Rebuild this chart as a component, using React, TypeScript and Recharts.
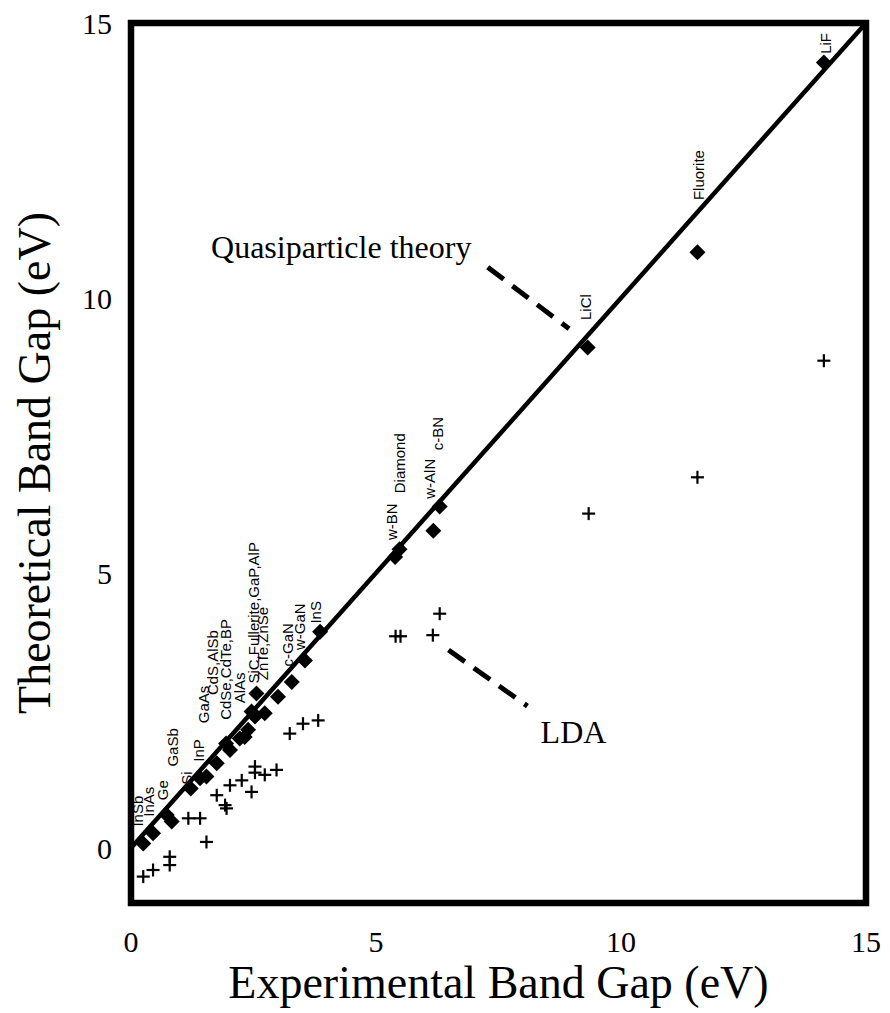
import React from 'react';
import {
  ScatterChart,
  Scatter,
  XAxis,
  YAxis,
  ReferenceArea,
  ReferenceLine,
  Label,
} from 'recharts';

// quasiparticle theory (diamonds): experimental gap vs theoretical gap, eV
const qpExp = [0.25, 0.45, 0.73, 0.83, 1.22, 1.41, 1.54, 1.75, 1.94, 2.02, 2.22, 2.32, 2.39, 2.46, 2.56, 2.53, 2.73, 3.0, 3.28, 3.55, 3.86, 5.39, 5.48, 6.17, 6.3, 9.32, 11.56, 14.14];
const qpTheory = [0.08, 0.27, 0.6, 0.48, 1.08, 1.27, 1.3, 1.54, 1.9, 1.78, 1.99, 2.02, 2.15, 2.48, 2.81, 2.39, 2.45, 2.75, 3.02, 3.41, 3.93, 5.29, 5.43, 5.77, 6.21, 9.1, 10.83, 14.28];

// LDA (crosses)
const ldaExp = [0.25, 0.45, 0.79, 0.79, 1.17, 1.41, 1.54, 1.75, 1.92, 1.95, 2.02, 2.26, 2.46, 2.53, 2.53, 2.73, 2.97, 3.24, 3.51, 3.82, 5.4, 5.5, 6.16, 6.3, 9.34, 11.56, 14.14];
const ldaTheory = [-0.52, -0.4, -0.16, -0.31, 0.54, 0.54, 0.11, 0.96, 0.78, 0.72, 1.14, 1.23, 1.02, 1.48, 1.37, 1.33, 1.42, 2.08, 2.26, 2.32, 3.85, 3.85, 3.87, 4.26, 6.08, 6.74, 8.86];

// material names, anchored (in eV) where each label begins
const materials = ['InSb', 'InAs', 'Ge', 'GaSb', 'Si', 'InP', 'GaAs', 'CdS,AlSb', 'CdSe,CdTe,BP', 'AlAs', 'SiC,Fullerite,GaP,AlP', 'ZnTe,ZnSe', 'c-GaN', 'w-GaN', 'InS', 'w-BN', 'Diamond', 'w-AlN', 'c-BN', 'LiCl', 'Fluorite', 'LiF'];
const materialX = [0.25, 0.46, 0.76, 0.95, 1.24, 1.48, 1.6, 1.78, 2.05, 2.33, 2.62, 2.79, 3.31, 3.55, 3.88, 5.42, 5.6, 6.2, 6.37, 9.38, 11.69, 14.28];
const materialY = [0.39, 0.57, 0.87, 1.48, 1.15, 1.57, 2.27, 2.78, 2.33, 2.63, 2.99, 3.05, 3.3, 3.6, 4.08, 5.6, 6.45, 6.35, 7.23, 9.6, 11.78, 14.44];

// callouts
const notes = ['Quasiparticle theory', 'LDA'];
const noteX = [4.29, 9.03];
const noteY = [10.73, 1.91];
const qpPointer = [{ x: 7.28, y: 10.56 }, { x: 8.94, y: 9.44 }];
const ldaPointer = [{ x: 6.48, y: 3.6 }, { x: 8.09, y: 2.58 }];

const ticks = [0, 5, 10, 15];

const SERIF = "'Liberation Serif', 'Times New Roman', Times, serif";
const SANS = "'Liberation Sans', Arial, Helvetica, sans-serif";

const qpData = qpExp.map((x, i) => ({ x, y: qpTheory[i] }));
const ldaData = ldaExp.map((x, i) => ({ x, y: ldaTheory[i] }));
const labelData = materials.map((name, i) => ({ x: materialX[i], y: materialY[i], name }));
const noteData = notes.map((name, i) => ({ x: noteX[i], y: noteY[i], name }));

const Diamond = ({ cx, cy }: any) => (
  <polygon
    points={`${cx},${cy - 8} ${cx + 8},${cy} ${cx},${cy + 8} ${cx - 8},${cy}`}
    fill="#000"
  />
);

const Cross = ({ cx, cy }: any) => (
  <g stroke="#000" strokeWidth={2.2}>
    <line x1={cx - 6.5} y1={cy} x2={cx + 6.5} y2={cy} />
    <line x1={cx} y1={cy - 6.5} x2={cx} y2={cy + 6.5} />
  </g>
);

const MaterialLabel = ({ cx, cy, payload }: any) => (
  <text
    x={cx}
    y={cy}
    transform={`rotate(-90 ${cx} ${cy})`}
    fontSize={15}
    fontFamily={SANS}
    fill="#000"
  >
    {payload.name}
  </text>
);

const NoteLabel = ({ cx, cy, payload }: any) => (
  <text x={cx} y={cy} textAnchor="middle" fontSize={32} fontFamily={SERIF} fill="#000">
    {payload.name}
  </text>
);

const XTick = ({ x, y, payload }: any) => (
  <text x={x} y={y} dy="0.71em" textAnchor="middle" fontSize={30} fontFamily={SERIF} fill="#000">
    {payload.value}
  </text>
);

const YTick = ({ x, y, payload }: any) => (
  <text x={x} y={y} dy="0.355em" textAnchor="end" fontSize={30} fontFamily={SERIF} fill="#000">
    {payload.value}
  </text>
);

const XTitle = ({ viewBox }: any) => (
  <text
    x={viewBox.x + viewBox.width / 2}
    y={viewBox.y + 95}
    textAnchor="middle"
    fontSize={46}
    fontFamily={SERIF}
    fill="#000"
  >
    Experimental Band Gap (eV)
  </text>
);

const YTitle = ({ viewBox }: any) => {
  const cx = viewBox.x + 50;
  const cy = viewBox.y + viewBox.height / 2;
  return (
    <text
      x={cx}
      y={cy}
      transform={`rotate(-90 ${cx} ${cy})`}
      textAnchor="middle"
      fontSize={46}
      fontFamily={SERIF}
      fill="#000"
    >
      Theoretical Band Gap (eV)
    </text>
  );
};

export default function App() {
  return (
    <div style={{ position: 'absolute', left: 0, top: 0, width: 890, height: 1013, background: '#fff' }}>
      <ScatterChart width={890} height={1013} margin={{ top: 23, right: 24, bottom: 0, left: 0 }}>
        <XAxis
          type="number"
          dataKey="x"
          domain={[0, 15]}
          ticks={ticks}
          axisLine={false}
          tickLine={false}
          tickMargin={22}
          height={110}
          tick={XTick}
        >
          <Label content={XTitle} />
        </XAxis>
        <YAxis
          type="number"
          dataKey="y"
          domain={[-1, 15]}
          ticks={ticks}
          axisLine={false}
          tickLine={false}
          tickMargin={13}
          width={131}
          tick={YTick}
        >
          <Label content={YTitle} />
        </YAxis>
        <ReferenceArea x1={0} x2={15} y1={-1} y2={15} fill="none" stroke="#000" strokeWidth={6.5} />
        <ReferenceLine segment={[{ x: 0, y: 0 }, { x: 15, y: 15 }]} stroke="#000" strokeWidth={4.5} />
        <ReferenceLine segment={qpPointer} stroke="#000" strokeWidth={5} strokeDasharray="20 11" />
        <ReferenceLine segment={ldaPointer} stroke="#000" strokeWidth={5} strokeDasharray="20 11" />
        <Scatter data={ldaData} shape={Cross} isAnimationActive={false} />
        <Scatter data={qpData} shape={Diamond} isAnimationActive={false} />
        <Scatter data={labelData} shape={MaterialLabel} isAnimationActive={false} />
        <Scatter data={noteData} shape={NoteLabel} isAnimationActive={false} />
      </ScatterChart>
    </div>
  );
}
